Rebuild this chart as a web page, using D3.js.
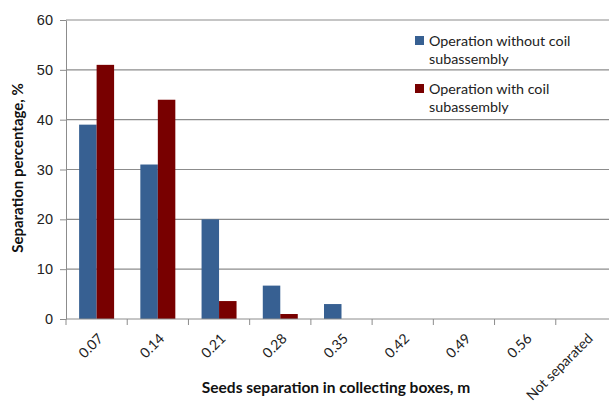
<!DOCTYPE html>
<html>
<head>
<meta charset="utf-8">
<script src="https://cdn.jsdelivr.net/npm/d3@7"></script>
<style>
  body { margin: 0; background: #fff; }
  svg { display: block; font-family: "Lato", "Liberation Sans", sans-serif; }
</style>
</head>
<body>
<div id="chart"></div>
<script>
// chart data
var categories = ["0.07", "0.14", "0.21", "0.28", "0.35", "0.42", "0.49", "0.56", "Not separated"];
var seriesNames = ["Operation without coil subassembly", "Operation with coil subassembly"];
var withoutCoil = [39, 31, 20, 6.7, 3, 0, 0, 0, 0];
var withCoil = [51, 44, 3.6, 1, 0, 0, 0, 0, 0];
var yTicks = [0, 10, 20, 30, 40, 50, 60];
var colors = ["#376092", "#780000"];

var W = 609, H = 403;
var margin = { top: 20, left: 66 };
var plotW = 551, plotH = 299;

var svg = d3.select("#chart").append("svg")
  .attr("width", W)
  .attr("height", H);

var g = svg.append("g")
  .attr("transform", "translate(" + margin.left + "," + margin.top + ")");

// scales
var x = d3.scaleBand().domain(categories).range([0, plotW]).padding(0);
var xs = d3.scaleBand().domain(seriesNames).range([0, x.bandwidth()])
  .paddingInner(0).paddingOuter(0.75);
var y = d3.scaleLinear().domain([0, 60]).range([plotH, 0]);

// gridlines
g.selectAll(".grid").data(yTicks.slice(1)).enter().append("line")
  .attr("x1", 0).attr("x2", plotW)
  .attr("y1", function (d) { return y(d); })
  .attr("y2", function (d) { return y(d); })
  .style("stroke", "#8c8c8c")
  .style("stroke-width", 1.2);

// bars
var rows = categories.map(function (c, i) {
  return { cat: c, vals: [withoutCoil[i], withCoil[i]] };
});
var grp = g.selectAll(".grp").data(rows).enter().append("g")
  .attr("transform", function (d) { return "translate(" + x(d.cat) + ",0)"; });
grp.selectAll("rect")
  .data(function (d) { return d.vals.map(function (v, k) { return { s: seriesNames[k], v: v, k: k }; }); })
  .enter().append("rect")
  .attr("x", function (d) { return xs(d.s); })
  .attr("width", xs.bandwidth())
  .attr("y", function (d) { return y(d.v); })
  .attr("height", function (d) { return plotH - y(d.v); })
  .style("fill", function (d) { return colors[d.k]; })
  .style("display", function (d) { return d.v > 0 ? null : "none"; });

// y axis
var yAxis = g.append("g")
  .call(d3.axisLeft(y).tickValues(yTicks).tickSize(6).tickSizeOuter(0).tickFormat(d3.format("d")));
yAxis.selectAll("line").style("stroke", "#8c8c8c");
yAxis.select(".domain").style("stroke", "#8c8c8c");
yAxis.selectAll("text").style("font-size", "14.5px").style("fill", "#222").attr("x", -13);

// x axis line + ticks between categories
g.append("line")
  .attr("x1", 0).attr("x2", plotW)
  .attr("y1", plotH).attr("y2", plotH)
  .style("stroke", "#8c8c8c");
var bounds = categories.map(function (c) { return x(c); }).concat([plotW]);
g.selectAll(".xtick").data(bounds).enter().append("line")
  .attr("x1", function (d) { return d; }).attr("x2", function (d) { return d; })
  .attr("y1", plotH).attr("y2", plotH + 6)
  .style("stroke", "#8c8c8c");

// x tick labels rotated
g.selectAll(".xlab").data(categories).enter().append("text")
  .attr("transform", function (d) {
    return "translate(" + (x(d) + x.bandwidth() / 2 + 4) + "," + (plotH + 17) + ") rotate(-45)";
  })
  .attr("text-anchor", "end")
  .attr("dy", "0.35em")
  .style("font-size", "14px")
  .style("fill", "#222")
  .text(function (d) { return d; });

// axis titles
svg.append("text")
  .attr("x", 336).attr("y", 393)
  .attr("text-anchor", "middle")
  .style("font-size", "15.5px")
  .style("font-weight", "bold")
  .style("fill", "#111")
  .text("Seeds separation in collecting boxes, m");

svg.append("text")
  .attr("transform", "translate(23,168) rotate(-90)")
  .attr("text-anchor", "middle")
  .style("font-size", "15px")
  .style("font-weight", "bold")
  .style("fill", "#111")
  .text("Separation percentage, %");

// legend
var legendLines = [["Operation without coil", "subassembly"], ["Operation with coil", "subassembly"]];
var leg = svg.append("g").attr("transform", "translate(415,32)");
legendLines.forEach(function (lines, i) {
  var item = leg.append("g").attr("transform", "translate(0," + (i * 48) + ")");
  item.append("rect")
    .attr("x", 0).attr("y", 4)
    .attr("width", 9).attr("height", 9)
    .style("fill", colors[i]);
  lines.forEach(function (t, j) {
    item.append("text")
      .attr("x", 14).attr("y", 14 + j * 18)
      .style("font-size", "14.3px")
      .style("fill", "#222")
      .text(t);
  });
});
</script>
</body>
</html>
